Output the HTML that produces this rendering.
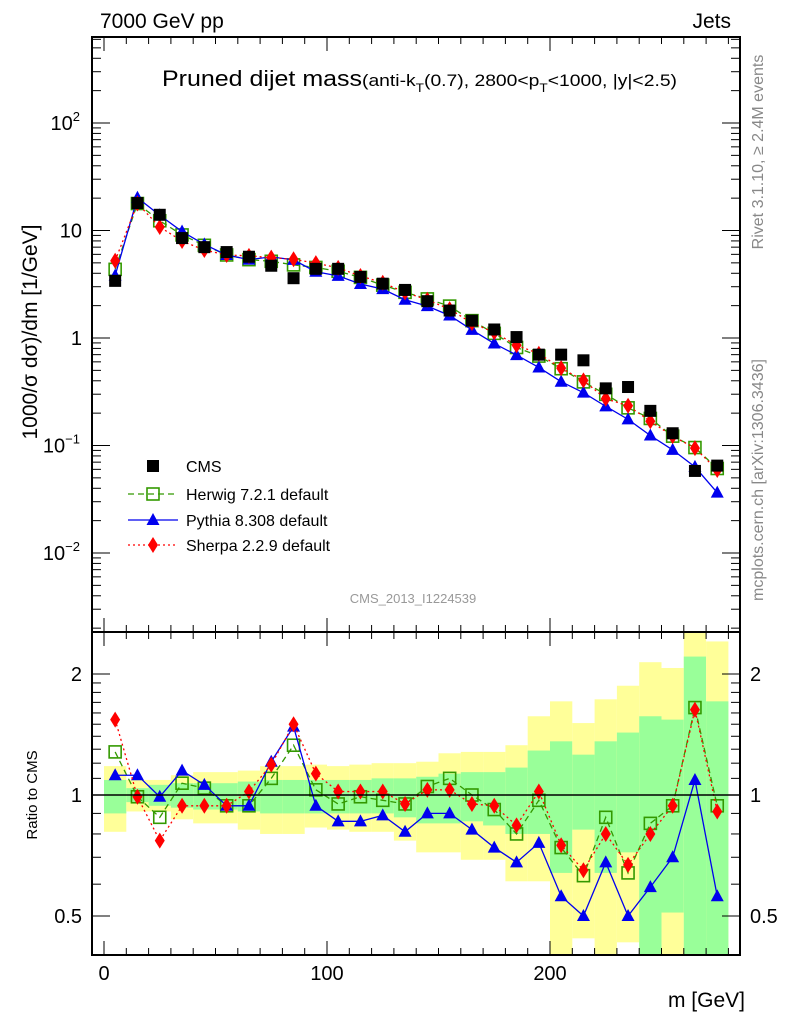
<!DOCTYPE html>
<html><head><meta charset="utf-8"><style>
html,body{margin:0;padding:0;background:#fff;}
svg{display:block;font-family:"Liberation Sans",sans-serif;}
</style></head><body>
<svg id="chart" width="786" height="1024" viewBox="0 0 786 1024" xmlns="http://www.w3.org/2000/svg">
<rect x="0" y="0" width="786" height="1024" fill="#fff"/>
<g id="bands"></g>
<g id="grid"></g>
<g id="series"></g>
<g id="axes"></g>
<text x="100" y="28" font-size="21">7000 GeV pp</text>
<text x="731" y="28" font-size="21" text-anchor="end">Jets</text>
<text x="162" y="86" font-size="22" textLength="515" lengthAdjust="spacingAndGlyphs">Pruned dijet mass<tspan font-size="17">(anti-k</tspan><tspan font-size="12" dy="6">T</tspan><tspan font-size="17" dy="-6">(0.7), 2800&lt;p</tspan><tspan font-size="12" dy="6">T</tspan><tspan font-size="17" dy="-6">&lt;1000, |y|&lt;2.5)</tspan></text>
<text transform="translate(37,332) rotate(-90)" font-size="21" text-anchor="middle">1000/σ dσ)/dm [1/GeV]</text>
<text transform="translate(37,795) rotate(-90)" font-size="15" text-anchor="middle">Ratio to CMS</text>
<text x="745" y="1007" font-size="21" text-anchor="end">m [GeV]</text>
<text transform="translate(763,152) rotate(-90)" font-size="16" fill="#888" text-anchor="middle">Rivet 3.1.10, ≥ 2.4M events</text>
<text transform="translate(763,480) rotate(-90)" font-size="16" fill="#888" text-anchor="middle">mcplots.cern.ch [arXiv:1306.3436]</text>
<text x="413" y="603" font-size="13" fill="#999" text-anchor="middle">CMS_2013_I1224539</text>
<g id="legend"></g>
</svg>
<script>
const binCenters=[5,15,25,35,45,55,65,75,85,95,105,115,125,135,145,155,165,175,185,195,205,215,225,235,245,255,265,275];
const cmsValues=[3.4,18,14,8.5,7,6.3,5.7,4.7,3.6,4.4,4.4,3.7,3.2,2.8,2.2,1.8,1.45,1.2,1.02,0.7,0.7,0.62,0.34,0.35,0.21,0.13,0.058,0.065];
const herwigRatio=[1.28,0.99,0.88,1.07,1.04,0.94,0.94,1.10,1.33,1.03,0.95,0.99,0.97,0.95,1.05,1.10,1.0,0.92,0.80,0.97,0.74,0.63,0.88,0.64,0.85,0.94,1.65,0.94];
const pythiaRatio=[1.12,1.12,0.99,1.15,1.06,0.94,0.94,1.21,1.48,0.94,0.86,0.86,0.89,0.81,0.90,0.90,0.82,0.74,0.68,0.76,0.56,0.50,0.68,0.50,0.59,0.70,1.09,0.56];
const sherpaRatio=[1.54,0.99,0.77,0.94,0.94,0.94,1.02,1.19,1.50,1.13,1.02,1.02,1.02,0.95,1.03,1.03,0.95,0.94,0.84,1.02,0.75,0.65,0.80,0.67,0.80,0.94,1.63,0.91];
const yellowLo=[0.81,0.91,0.91,0.87,0.85,0.85,0.82,0.80,0.80,0.83,0.82,0.81,0.81,0.77,0.72,0.72,0.69,0.69,0.61,0.61,0.3,0.44,0.3,0.43,0.3,0.3,0.3,0.3];
const yellowHi=[1.18,1.09,1.09,1.12,1.14,1.14,1.15,1.18,1.18,1.19,1.18,1.19,1.20,1.20,1.21,1.27,1.28,1.28,1.33,1.57,1.71,1.51,1.73,1.87,2.14,2.07,3.0,2.41];
const greenLo=[0.90,0.96,0.94,0.93,0.92,0.92,0.91,0.90,0.90,0.90,0.90,0.90,0.90,0.88,0.85,0.85,0.86,0.84,0.80,0.80,0.64,0.82,0.64,0.72,0.3,0.51,0.3,0.3];
const greenHi=[1.09,1.04,1.06,1.07,1.07,1.07,1.08,1.09,1.09,1.09,1.09,1.09,1.10,1.10,1.11,1.13,1.14,1.14,1.17,1.29,1.36,1.26,1.36,1.43,1.57,1.54,2.21,1.71];
const xTicks=[0,100,200];
const yTicksTop=[{v:100,l:"10",e:"2"},{v:10,l:"10",e:""},{v:1,l:"1",e:""},{v:0.1,l:"10",e:"−1"},{v:0.01,l:"10",e:"−2"}];
const ratioTicks=[0.5,1,2];

const NS="http://www.w3.org/2000/svg";
const L=92,R=740,T1=37,B1=632,T2=632,B2=955;
const xs=v=>104+2.23*v;
const ysTop=v=>338-107.5*Math.log10(v);
const ysR=v=>795-121*Math.log2(v);
const clampR=y=>Math.max(T2,Math.min(B2,y));
function el(tag,attrs,parent){const e=document.createElementNS(NS,tag);for(const k in attrs)e.setAttribute(k,attrs[k]);parent.appendChild(e);return e;}
const bands=document.getElementById('bands'),series=document.getElementById('series'),axes=document.getElementById('axes'),legend=document.getElementById('legend');

binCenters.forEach((c,i)=>{
  const x0=xs(c-5),x1=xs(c+5);
  const y=el('rect',{x:x0,y:clampR(ysR(yellowHi[i])),width:x1-x0,height:clampR(ysR(yellowLo[i]))-clampR(ysR(yellowHi[i])),fill:'#ffff99'},bands);
  
  
  const g=el('rect',{x:x0,y:clampR(ysR(greenHi[i])),width:x1-x0,height:clampR(ysR(greenLo[i]))-clampR(ysR(greenHi[i])),fill:'#99ff99'},bands);
  
  
});
const one=el('line',{x1:L,x2:R,y1:ysR(1),y2:ysR(1),stroke:'#000','stroke-width':1.5},axes);



function marker(type,x,y,parent,color){
  let m;
  if(type==='square') m=el('rect',{x:x-6,y:y-6,width:12,height:12,fill:'#000'},parent);
  else if(type==='open') m=el('rect',{x:x-6,y:y-6,width:12,height:12,fill:'none',stroke:color,'stroke-width':1.6},parent);
  else if(type==='tri') m=el('polygon',{points:`${x},${y-7} ${x-6.5},${y+5} ${x+6.5},${y+5}`,fill:color},parent);
  else m=el('polygon',{points:`${x},${y-8} ${x+5},${y} ${x},${y+8} ${x-5},${y}`,fill:color},parent);
  return m;
}
const mcs=[
 {name:'herwig',ratio:herwigRatio,color:'#339900',dash:'6,4',type:'open'},
 {name:'pythia',ratio:pythiaRatio,color:'#0000ee',dash:'',type:'tri'},
 {name:'sherpa',ratio:sherpaRatio,color:'#ff0000',dash:'2,3',type:'diamond'}];
mcs.forEach(s=>{
  const topPts=binCenters.map((c,i)=>[xs(c),ysTop(cmsValues[i]*s.ratio[i])]);
  const rPts=binCenters.map((c,i)=>[xs(c),ysR(s.ratio[i])]);
  [topPts,rPts].forEach((pts,k)=>{
    const pl=el('polyline',{points:pts.map(p=>p.join(',')).join(' '),fill:'none',stroke:s.color,'stroke-width':1.3,'stroke-dasharray':s.dash},series);
    
    
    pts.forEach(p=>{const m=marker(s.type,p[0],p[1],series,s.color);
      
      });
  });
});
binCenters.forEach((c,i)=>{
  const m=marker('square',xs(c),ysTop(cmsValues[i]),series,'#000');
  
  
});

[[T1,B1],[T2,B2]].forEach(([t,b])=>{
  const f=el('rect',{x:L,y:t,width:R-L,height:b-t,fill:'none',stroke:'#000','stroke-width':2},axes);
  
  
  for(let v=0;v<=280;v+=10){
    const len=v%100===0?14:7;
    el('line',{x1:xs(v),x2:xs(v),y1:t,y2:t+len,stroke:'#000','stroke-width':1},axes);
    el('line',{x1:xs(v),x2:xs(v),y1:b,y2:b-len,stroke:'#000','stroke-width':1},axes);
  }
});
xTicks.forEach(v=>{const t=el('text',{x:xs(v),y:980,'font-size':20,'text-anchor':'middle'},axes);t.textContent=v;
  
  });
for(let d=-3;d<=2;d++){for(let k=1;k<10;k++){const v=k*Math.pow(10,d);const y=ysTop(v);if(y<T1||y>B1)continue;const len=k===1?18:9;
  el('line',{x1:L,x2:L+len,y1:y,y2:y,stroke:'#000'},axes);el('line',{x1:R,x2:R-len,y1:y,y2:y,stroke:'#000'},axes);}}
yTicksTop.forEach(o=>{const y=ysTop(o.v);const t=el('text',{x:o.e?80:82,y:y+7,'font-size':20,'text-anchor':'end'},axes);
  
  
  t.textContent=o.l;if(o.e){const s=el('tspan',{'font-size':13,dy:-9},t);s.textContent=o.e;}});
[0.4,0.5,0.6,0.7,0.8,0.9,1,2].concat([1.1,1.2,1.3,1.4,1.5,1.6,1.7,1.8,1.9]).forEach(v=>{const y=ysR(v);if(y<T2||y>B2)return;
  const len=(v===0.5||v===1||v===2)?18:9;
  el('line',{x1:L,x2:L+len,y1:y,y2:y,stroke:'#000'},axes);el('line',{x1:R,x2:R-len,y1:y,y2:y,stroke:'#000'},axes);});
ratioTicks.forEach(v=>{const y=ysR(v)+7;
  const a=el('text',{x:82,y:y,'font-size':20,'text-anchor':'end'},axes);a.textContent=v;
  
  
  const b=el('text',{x:750,y:y,'font-size':20},axes);b.textContent=v;
  
  });

const entries=[{t:'CMS',type:'square',c:'#000',dash:null},{t:'Herwig 7.2.1 default',type:'open',c:'#339900',dash:'6,4'},{t:'Pythia 8.308 default',type:'tri',c:'#0000ee',dash:''},{t:'Sherpa 2.2.9 default',type:'diamond',c:'#ff0000',dash:'2,3'}];
const ly=[466,494,520,545];
entries.forEach((e,i)=>{
  const g=el('g',{},legend);
  
  
  if(e.dash!==null) el('line',{x1:128,x2:178,y1:ly[i],y2:ly[i],stroke:e.c,'stroke-width':1.3,'stroke-dasharray':e.dash},g);
  marker(e.type,153,ly[i],g,e.c);
  const t=el('text',{x:186,y:ly[i]+6,'font-size':16},g);t.textContent=e.t;
});
</script>
</body></html>
